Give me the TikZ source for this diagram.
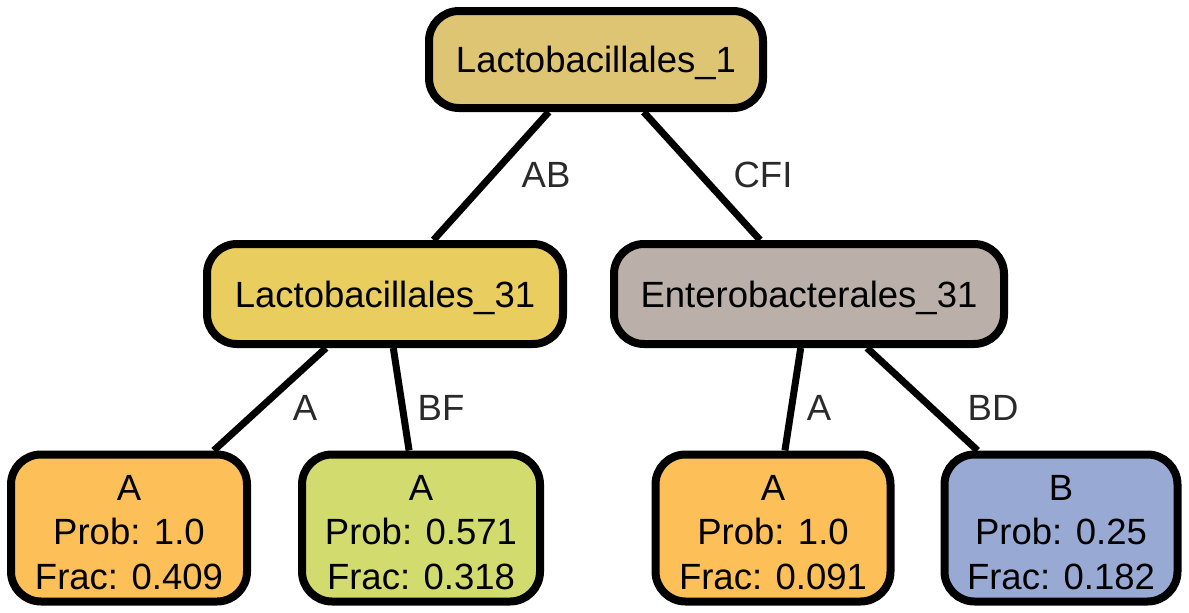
\documentclass[tikz,border=0pt]{standalone}
\usepackage{fontspec}
\setmainfont{Liberation Sans}
\definecolor{rootc}{HTML}{DEC574}
\definecolor{lactc}{HTML}{E9CD5F}
\definecolor{entc}{HTML}{BAAFA9}
\definecolor{orangec}{HTML}{FDBF57}
\definecolor{greenc}{HTML}{D2DB6E}
\definecolor{bluec}{HTML}{98AAD4}
\definecolor{labc}{HTML}{2A2A2A}
\tikzset{
  inner/.style={draw=black, line width=8pt, rounded corners=30pt, inner sep=0pt,
    font=\fontsize{36.5}{44}\selectfont, text height=26pt, text depth=0pt, minimum height=98pt},
  leaf/.style={draw=black, line width=8pt, rounded corners=30pt, inner sep=0pt,
    font=\fontsize{36.5}{44.5}\selectfont, align=center, text height=122pt, text depth=0pt,
    minimum height=147pt},
  elabel/.style={text=labc, inner sep=0pt, font=\fontsize{36.5}{44}\selectfont,
    text height=26pt, text depth=0pt},
  edge/.style={draw=black, line width=7pt}
}
\begin{document}
\begin{tikzpicture}[x=1pt,y=-1pt]
\useasboundingbox (0,0) rectangle (1189,613);
\node[inner, fill=rootc, minimum width=334pt, minimum height=97pt] (root) at (596,59.5) {Lactobacillales\_1};
\node[inner, fill=lactc, minimum width=356pt, minimum height=100pt] (lac) at (385,294) {Lactobacillales\_31};
\node[inner, fill=entc, minimum width=390pt, minimum height=100pt] (ent) at (809,294) {Enterobacterales\_31};
\node[leaf, fill=orangec, minimum width=236pt] (l1) at (129,528) {A\\Prob: 1.0\\Frac: 0.409};
\node[leaf, fill=greenc, minimum width=238pt] (l2) at (421,528) {A\\Prob: 0.571\\Frac: 0.318};
\node[leaf, fill=orangec, minimum width=235pt] (l3) at (773,528) {A\\Prob: 1.0\\Frac: 0.091};
\node[leaf, fill=bluec, minimum width=233pt] (l4) at (1061,528) {B\\Prob: 0.25\\Frac: 0.182};
\draw[edge] (root) -- (lac);
\draw[edge] (root) -- (ent);
\draw[edge] (lac) -- (l1);
\draw[edge] (lac) -- (l2);
\draw[edge] (ent) -- (l3);
\draw[edge] (ent) -- (l4);
\node[elabel] (lab1) at (546,174) {AB};
\node[elabel] (lab2) at (763,174) {CFI};
\node[elabel] (lab3) at (305,407) {A};
\node[elabel] (lab4) at (441,407) {BF};
\node[elabel] (lab5) at (819,407) {A};
\node[elabel] (lab6) at (993,407) {BD};
\end{tikzpicture}
\end{document}
